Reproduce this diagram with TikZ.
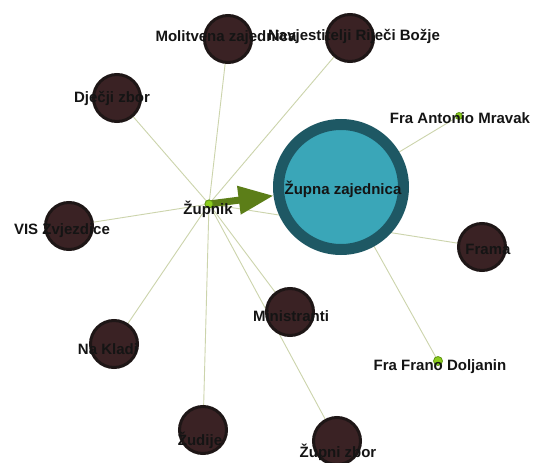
\documentclass[tikz,border=0pt]{standalone}
\usepackage{fontspec}
\setmainfont{Liberation Sans}
\usetikzlibrary{arrows.meta}
\definecolor{edgecol}{RGB}{204,212,172}
\definecolor{darkfill}{RGB}{58,34,36}
\definecolor{darkline}{RGB}{30,22,22}
\definecolor{tealfill}{RGB}{58,166,184}
\definecolor{tealring}{RGB}{30,88,100}
\definecolor{dotfill}{RGB}{140,204,30}
\definecolor{dotline}{RGB}{95,150,20}
\definecolor{arrowcol}{RGB}{92,126,24}
\definecolor{labelcol}{RGB}{20,20,20}
\pgfdeclarelayer{bg}
\pgfdeclarelayer{fg}
\pgfsetlayers{bg,main,fg}
\tikzset{
  group/.style={circle, fill=darkfill, draw=darkline, line width=3pt, minimum size=47pt, inner sep=0pt},
  person/.style={circle, fill=dotfill, draw=dotline, line width=0.8pt, minimum size=8pt, inner sep=0pt},
  hub/.style={circle, fill=tealfill, draw=tealring, line width=11pt, minimum size=125pt, inner sep=0pt},
  lbl/.style={font=\bfseries\fontsize{15}{15}\selectfont, text=labelcol, anchor=base, inner sep=0pt},
  link/.style={draw=edgecol, line width=0.9pt},
}
\begin{document}
\begin{tikzpicture}[x=1pt,y=-1pt]
\useasboundingbox (0,0) rectangle (533,463);
% nodes
\node[hub] (zz) at (341,187) {};
\node[group] (mol) at (228,39) {};
\node[group] (nav) at (350,38) {};
\node[group] (djz) at (117,98) {};
\node[group] (vis) at (69,226) {};
\node[group] (nak) at (114,344) {};
\node[group] (zud) at (203,430) {};
\node[group] (min) at (290,312) {};
\node[group] (zzb) at (337,441) {};
\node[group] (fra) at (482,247) {};
\node[person] (zup) at (209,204) {};
\node[person, minimum size=7pt] (ant) at (459,116) {};
\node[person, minimum size=9pt] (fdo) at (438,361) {};
% edges
\begin{pgfonlayer}{bg}
\fill[white] (0,0) rectangle (533,463);
\foreach \t in {mol,nav,djz,vis,nak,zud,min,zzb,fra}
  \draw[link] (zup.center) -- (\t.center);
\foreach \t in {ant,fdo}
  \draw[link] (zz.center) -- (\t.center);
\end{pgfonlayer}
\draw[arrowcol, line width=7pt, -{Triangle[length=35pt,width=27pt]}] (zup.center) -- (zz);
\node[person] at (zup) {};
% labels
\begin{pgfonlayer}{fg}
\node[lbl] (lmol) at (226,41) {Molitvena zajednica};
\node[lbl] (lnav) at (354,40) {Navjestitelji Riječi Božje};
\node[lbl] (ldjz) at (112,102) {Dječji zbor};
\node[lbl] (lvis) at (62,234) {VIS Zvjezdice};
\node[lbl] (lnak) at (108,354) {Na Kladi};
\node[lbl] (lzud) at (200,445) {Žudije};
\node[lbl] (lmin) at (291,321) {Ministranti};
\node[lbl] (lzzb) at (338,457) {Župni zbor};
\node[lbl] (lzup) at (208,214) {Župnik};
\node[lbl] (lzz) at (343,194) {Župna zajednica};
\node[lbl] (lant) at (460,123) {Fra Antonio Mravak};
\node[lbl] (lfra) at (488,254) {Frama};
\node[lbl] (lfdo) at (440,370) {Fra Frano Doljanin};
\end{pgfonlayer}
\end{tikzpicture}
\end{document}
